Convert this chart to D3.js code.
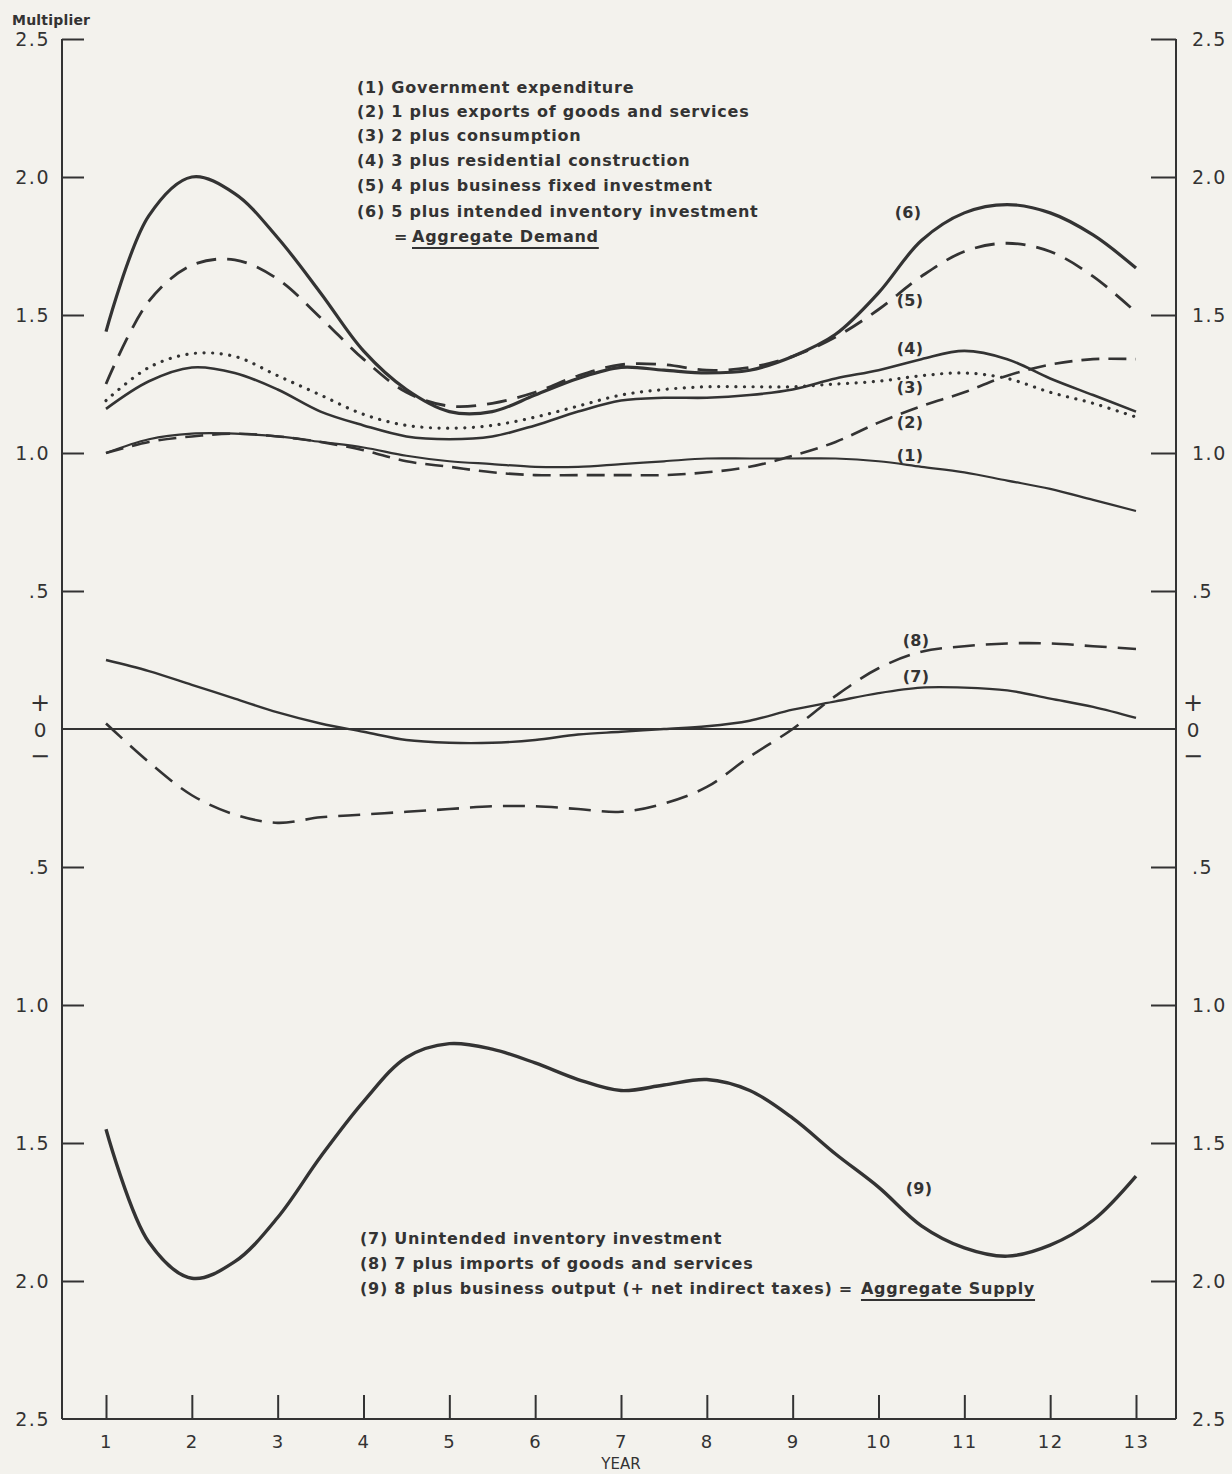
<!DOCTYPE html>
<html>
<head>
<meta charset="utf-8">
<script src="https://cdn.jsdelivr.net/npm/d3@7"></script>
<style>
  html, body { margin: 0; padding: 0; background: #f3f2ed; }
  svg { display: block; }
</style>
</head>
<body>
<svg id="chart" width="1232" height="1474"></svg>
<script>
// ---------- DATA ----------
const years = [1,1.5,2,2.5,3,3.5,4,4.5,5,5.5,6,6.5,7,7.5,8,8.5,9,9.5,10,10.5,11,11.5,12,12.5,13];
const yearTicks = [1,2,3,4,5,6,7,8,9,10,11,12,13];
const yearTickLabels = ["1","2","3","4","5","6","7","8","9","10","11","12","13"];

const yTicks = [2.5,2.0,1.5,1.0,0.5,-0.5,-1.0,-1.5,-2.0,-2.5];
const yTickLabels = ["2.5","2.0","1.5","1.0",".5",".5","1.0","1.5","2.0","2.5"];

// (1) Government expenditure
const s1 = [1.00,1.05,1.07,1.07,1.06,1.04,1.02,0.99,0.97,0.96,0.95,0.95,0.96,0.97,0.98,0.98,0.98,0.98,0.97,0.95,0.93,0.90,0.87,0.83,0.79];
// (2) 1 plus exports
const s2 = [1.00,1.04,1.06,1.07,1.06,1.04,1.01,0.97,0.95,0.93,0.92,0.92,0.92,0.92,0.93,0.95,0.99,1.04,1.11,1.17,1.22,1.28,1.32,1.34,1.34];
// (3) 2 plus consumption (dotted)
const s3 = [1.19,1.31,1.36,1.35,1.28,1.21,1.14,1.10,1.09,1.10,1.13,1.17,1.21,1.23,1.24,1.24,1.24,1.25,1.26,1.28,1.29,1.27,1.22,1.18,1.13];
// (4) 3 plus residential construction
const s4 = [1.16,1.26,1.31,1.29,1.23,1.15,1.10,1.06,1.05,1.06,1.10,1.15,1.19,1.20,1.20,1.21,1.23,1.27,1.30,1.34,1.37,1.34,1.27,1.21,1.15];
// (5) 4 plus business fixed investment (dashed)
const s5 = [1.25,1.55,1.68,1.70,1.63,1.49,1.34,1.22,1.17,1.18,1.22,1.28,1.32,1.32,1.30,1.31,1.35,1.42,1.52,1.64,1.73,1.76,1.73,1.64,1.51];
// (6) Aggregate Demand
const s6 = [1.44,1.86,2.00,1.94,1.78,1.58,1.37,1.23,1.15,1.15,1.21,1.27,1.31,1.30,1.29,1.30,1.35,1.43,1.58,1.77,1.87,1.90,1.87,1.79,1.67];
// (7) Unintended inventory investment
const s7 = [0.25,0.21,0.16,0.11,0.06,0.02,-0.01,-0.04,-0.05,-0.05,-0.04,-0.02,-0.01,0.00,0.01,0.03,0.07,0.10,0.13,0.15,0.15,0.14,0.11,0.08,0.04];
// (8) 7 plus imports (dashed)
const s8 = [0.02,-0.12,-0.24,-0.31,-0.34,-0.32,-0.31,-0.30,-0.29,-0.28,-0.28,-0.29,-0.30,-0.27,-0.21,-0.10,0.00,0.12,0.22,0.28,0.30,0.31,0.31,0.30,0.29];
// (9) Aggregate Supply
const s9 = [-1.45,-1.86,-1.99,-1.93,-1.77,-1.55,-1.35,-1.19,-1.14,-1.16,-1.21,-1.27,-1.31,-1.29,-1.27,-1.31,-1.41,-1.54,-1.66,-1.80,-1.88,-1.91,-1.87,-1.78,-1.62];

const legendTop = [
  "(1) Government expenditure",
  "(2) 1 plus exports of goods and services",
  "(3) 2 plus consumption",
  "(4) 3 plus residential construction",
  "(5) 4 plus business fixed investment",
  "(6) 5 plus intended inventory investment"
];
const legendBottom = [
  "(7) Unintended inventory investment",
  "(8) 7 plus imports of goods and services",
  "(9) 8 plus business output (+ net indirect taxes) ="
];
const curveLabels = ["(1)","(2)","(3)","(4)","(5)","(6)","(7)","(8)","(9)"];

// ---------- LAYOUT ----------
const ink = "#333";
const svg = d3.select("#chart");
const L = 62, R = 1176, T = 39, B = 1419;
const x = d3.scaleLinear().domain([1, 13]).range([106, 1136]);
const y = d3.scaleLinear().domain([-2.5, 2.5]).range([B, T]);
const fontTick = "'DejaVu Sans', sans-serif";

const yLabel = d => yTickLabels[yTicks.indexOf(d)];
const leftAxis = d3.axisLeft(y).tickValues(yTicks).tickSize(-22).tickSizeOuter(0).tickPadding(12).tickFormat(yLabel);
const gl = svg.append("g").attr("transform", `translate(${L},0)`).call(leftAxis);
const rightAxis = d3.axisRight(y).tickValues(yTicks).tickSize(-25).tickSizeOuter(0).tickPadding(16).tickFormat(yLabel);
const gr = svg.append("g").attr("transform", `translate(${R},0)`).call(rightAxis);
const bottomAxis = d3.axisBottom(x).tickValues(yearTicks).tickSize(-24).tickSizeOuter(0).tickPadding(16)
  .tickFormat(d => yearTickLabels[yearTicks.indexOf(d)]);
const gb = svg.append("g").attr("transform", `translate(0,${B})`).call(bottomAxis);

[gl, gr, gb].forEach(g => {
  g.select(".domain").remove();
  g.selectAll(".tick line").attr("stroke", ink).attr("stroke-width", 2);
  g.selectAll(".tick text").attr("fill", ink).attr("font-family", fontTick).attr("font-size", 19).attr("letter-spacing", 1.5);
});
gl.selectAll(".tick").filter(d => d === -2.5).select("line").remove();
gr.selectAll(".tick").filter(d => d === -2.5).select("line").remove();
gb.selectAll(".tick text").attr("font-size", 18);

// frame lines
svg.append("line").attr("x1", L).attr("x2", L).attr("y1", y(2.5)).attr("y2", y(-2.5)).attr("stroke", ink).attr("stroke-width", 2);
svg.append("line").attr("x1", R).attr("x2", R).attr("y1", y(2.5)).attr("y2", y(-2.5)).attr("stroke", ink).attr("stroke-width", 2);
svg.append("line").attr("x1", L).attr("x2", R).attr("y1", y(-2.5)).attr("y2", y(-2.5)).attr("stroke", ink).attr("stroke-width", 2.2);
svg.append("line").attr("x1", L).attr("x2", R).attr("y1", y(0)).attr("y2", y(0)).attr("stroke", ink).attr("stroke-width", 1.8);

// + 0 − labels
[40, 1193].forEach(px => {
  const g = svg.append("g").attr("fill", ink).attr("font-family", fontTick).attr("text-anchor", "middle");
  g.append("text").attr("x", px).attr("y", y(0) - 26).attr("font-size", 24).attr("dy", "0.35em").text("+");
  g.append("text").attr("x", px).attr("y", y(0) + 1).attr("font-size", 20).attr("dy", "0.35em").text("0");
  g.append("text").attr("x", px).attr("y", y(0) + 27).attr("font-size", 24).attr("dy", "0.35em").text("\u2212");
});

// Titles
svg.append("text").attr("x", 12).attr("y", 25).attr("fill", ink).attr("font-family", fontTick)
  .attr("font-size", 14).attr("font-weight", "bold").attr("letter-spacing", 0.2).text("Multiplier");
svg.append("text").attr("x", 621).attr("y", 1469).attr("fill", ink).attr("font-family", fontTick)
  .attr("font-size", 15).attr("text-anchor", "middle").text("YEAR");

// ---------- CURVES ----------
const line = d3.line().x((d, i) => x(years[i])).y(d => y(d)).curve(d3.curveCatmullRom.alpha(0.5));
const series = [
  {v: s1, w: 2.2, dash: null},
  {v: s2, w: 2.6, dash: "18 9"},
  {v: s3, w: 3.2, dash: "0.1 8.5", cap: "round"},
  {v: s4, w: 2.6, dash: null},
  {v: s5, w: 2.8, dash: "20 11"},
  {v: s6, w: 3.2, dash: null},
  {v: s7, w: 2.4, dash: null},
  {v: s8, w: 2.6, dash: "22 11"},
  {v: s9, w: 3.4, dash: null}
];
series.forEach(s => {
  svg.append("path").datum(s.v).attr("d", line).attr("fill", "none").attr("stroke", ink)
    .attr("stroke-width", s.w).attr("stroke-dasharray", s.dash).attr("stroke-linecap", s.cap || "butt");
});

// curve labels
const labelPos = [[910, 455], [910, 422], [910, 387], [910, 348], [910, 300], [908, 212], [916, 676], [916, 640], [919, 1188]];
curveLabels.forEach((t, i) => {
  svg.append("text").attr("x", labelPos[i][0]).attr("y", labelPos[i][1]).attr("dy", "0.35em")
    .attr("text-anchor", "middle").attr("fill", ink).attr("font-family", fontTick)
    .attr("font-size", 16).attr("font-weight", "bold").attr("letter-spacing", 0.3).text(t);
});

// ---------- LEGENDS ----------
const legFont = "'DejaVu Sans', sans-serif";
const legSize = 16, legSpace = 0.75;
const topRows = [87, 111, 135, 160, 185, 211];
legendTop.forEach((t, i) => {
  svg.append("text").attr("x", 357).attr("y", topRows[i]).attr("dy", "0.35em")
    .attr("fill", ink).attr("font-family", legFont).attr("font-size", legSize).attr("font-weight", "bold")
    .attr("letter-spacing", legSpace).text(t);
});
svg.append("text").attr("x", 394).attr("y", 236).attr("dy", "0.35em")
  .attr("fill", ink).attr("font-family", legFont).attr("font-size", legSize).attr("font-weight", "bold").text("=");
const ad = svg.append("text").attr("x", 412).attr("y", 236).attr("dy", "0.35em")
  .attr("fill", ink).attr("font-family", legFont).attr("font-size", legSize).attr("font-weight", "bold")
  .attr("letter-spacing", legSpace).text("Aggregate Demand");
const adb = ad.node().getBBox();
svg.append("line").attr("x1", adb.x).attr("x2", adb.x + adb.width).attr("y1", 248).attr("y2", 248)
  .attr("stroke", ink).attr("stroke-width", 2);

const botRows = [1238, 1263, 1288];
let lastNode;
legendBottom.forEach((t, i) => {
  lastNode = svg.append("text").attr("x", 360).attr("y", botRows[i]).attr("dy", "0.35em")
    .attr("fill", ink).attr("font-family", legFont).attr("font-size", legSize).attr("font-weight", "bold")
    .attr("letter-spacing", legSpace).text(t);
});
const lb = lastNode.node().getBBox();
const as = svg.append("text").attr("x", lb.x + lb.width + 8).attr("y", 1288).attr("dy", "0.35em")
  .attr("fill", ink).attr("font-family", legFont).attr("font-size", legSize).attr("font-weight", "bold")
  .attr("letter-spacing", legSpace).text("Aggregate Supply");
const asb = as.node().getBBox();
svg.append("line").attr("x1", asb.x).attr("x2", asb.x + asb.width).attr("y1", 1300).attr("y2", 1300)
  .attr("stroke", ink).attr("stroke-width", 2);
</script>
</body>
</html>
